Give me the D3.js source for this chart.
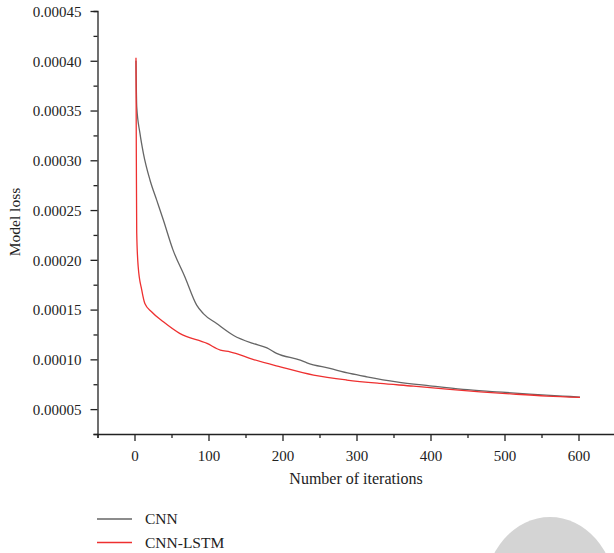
<!DOCTYPE html>
<html>
<head>
<meta charset="utf-8">
<script src="https://cdn.jsdelivr.net/npm/d3@7"></script>
<style>
  body { margin: 0; background: #fff; }
  svg text { font-family: "Liberation Serif", "DejaVu Serif", serif; fill: #222; }
</style>
</head>
<body>
<div id="chart"></div>
<script>
const WIDTH = 614;
const HEIGHT = 553;

// CNN loss curve
const CNN_ITER = [2, 3, 7.4, 12, 21, 30, 39, 52, 68, 84, 93, 111, 134, 160, 179, 192, 224, 233, 264, 291, 314, 354, 399, 444, 489, 534, 579, 602];
const CNN_LOSS = [0.000400, 0.000354, 0.000327, 0.000307, 0.000280, 0.000260, 0.000240, 0.000210, 0.000183, 0.0001545, 0.000146, 0.000136, 0.000124, 0.000116, 0.0001116, 0.000106, 0.0000992, 0.0000965, 0.0000909, 0.0000859, 0.0000825, 0.0000774, 0.0000734, 0.0000698, 0.0000674, 0.0000651, 0.0000631, 0.0000621];

// CNN-LSTM loss curve
const LSTM_ITER = [2, 2.5, 3, 5, 9.7, 14, 23, 39, 61, 98, 116, 129, 160, 197, 242, 287, 332, 377, 422, 467, 512, 557, 602];
const LSTM_LOSS = [0.000403, 0.000300, 0.000227, 0.000193, 0.000170, 0.000156, 0.0001478, 0.0001377, 0.0001261, 0.000116, 0.0001093, 0.0001076, 0.000100, 0.0000925, 0.0000842, 0.0000792, 0.0000758, 0.0000731, 0.0000701, 0.0000674, 0.0000651, 0.0000631, 0.0000618];

const X_TICKS = [0, 100, 200, 300, 400, 500, 600];
const Y_TICKS = [0.00005, 0.0001, 0.00015, 0.0002, 0.00025, 0.0003, 0.00035, 0.0004, 0.00045];

const SERIES = [
  { name: "CNN", iter: CNN_ITER, loss: CNN_LOSS, color: "#666666" },
  { name: "CNN-LSTM", iter: LSTM_ITER, loss: LSTM_LOSS, color: "#ee3030" }
];

const svg = d3.select("#chart").append("svg")
  .attr("width", WIDTH)
  .attr("height", HEIGHT);

// watermark blob in the corner
svg.append("ellipse")
  .attr("cx", 550)
  .attr("cy", 592)
  .attr("rx", 65)
  .attr("ry", 75)
  .attr("fill", "#d4d4d4");

const xScale = d3.scaleLinear().domain([-50, 650]).range([97.5, 615.5]);
const yScale = d3.scaleLinear().domain([0.000025, 0.00045]).range([434, 11]);

// X axis: major + minor
const xAxisG = svg.append("g").attr("transform", `translate(0,${yScale.range()[0]})`);
xAxisG.call(d3.axisBottom(xScale).tickValues(d3.range(-50, 651, 50)).tickSize(4).tickFormat(""));
xAxisG.call(g => g.selectAll(".tick").filter(d => X_TICKS.includes(d)).select("line").attr("y2", 7));
xAxisG.selectAll(".tick").filter(d => X_TICKS.includes(d)).append("text")
  .attr("y", 27)
  .attr("text-anchor", "middle")
  .style("font-size", "15px")
  .text(d => d);

// Y axis: major + minor
const yAxisG = svg.append("g").attr("transform", `translate(${xScale.range()[0]},0)`);
yAxisG.call(d3.axisLeft(yScale).tickValues(d3.range(0.000025, 0.000451, 0.000025)).tickSize(4).tickFormat(""));
yAxisG.call(g => g.selectAll(".tick").filter(d => Y_TICKS.some(t => Math.abs(t - d) < 1e-9)).select("line").attr("x2", -7));
yAxisG.selectAll(".tick").filter(d => Y_TICKS.some(t => Math.abs(t - d) < 1e-9)).append("text")
  .attr("x", -16)
  .attr("dy", "0.35em")
  .attr("text-anchor", "end")
  .style("font-size", "15px")
  .text(d => d3.format(".5f")(d));

svg.selectAll(".domain, .tick line").attr("stroke", "#222").attr("stroke-width", 1.3);

// Axis titles
svg.append("text")
  .attr("x", 356)
  .attr("y", 484)
  .attr("text-anchor", "middle")
  .style("font-size", "16px")
  .text("Number of iterations");

svg.append("text")
  .attr("transform", "translate(20,222) rotate(-90)")
  .attr("text-anchor", "middle")
  .style("font-size", "15.5px")
  .text("Model loss");

// Lines
const line = d3.line()
  .x(d => xScale(d[0]))
  .y(d => yScale(d[1]))
  .curve(d3.curveMonotoneX);

svg.append("g").selectAll("path").data(SERIES).enter().append("path")
  .attr("d", s => line(s.iter.map((it, i) => [it, s.loss[i]])))
  .attr("fill", "none")
  .attr("stroke", s => s.color)
  .attr("stroke-width", 1.3);

// Legend
const legend = svg.append("g").selectAll("g").data(SERIES).enter().append("g")
  .attr("transform", (_, i) => `translate(97,${519 + i * 23.5})`);
legend.append("line")
  .attr("x1", 0).attr("x2", 35)
  .attr("stroke", s => s.color)
  .attr("stroke-width", 1.3);
legend.append("text")
  .attr("x", 48)
  .attr("dy", "0.35em")
  .style("font-size", "15.5px")
  .text(s => s.name);
</script>
</body>
</html>
